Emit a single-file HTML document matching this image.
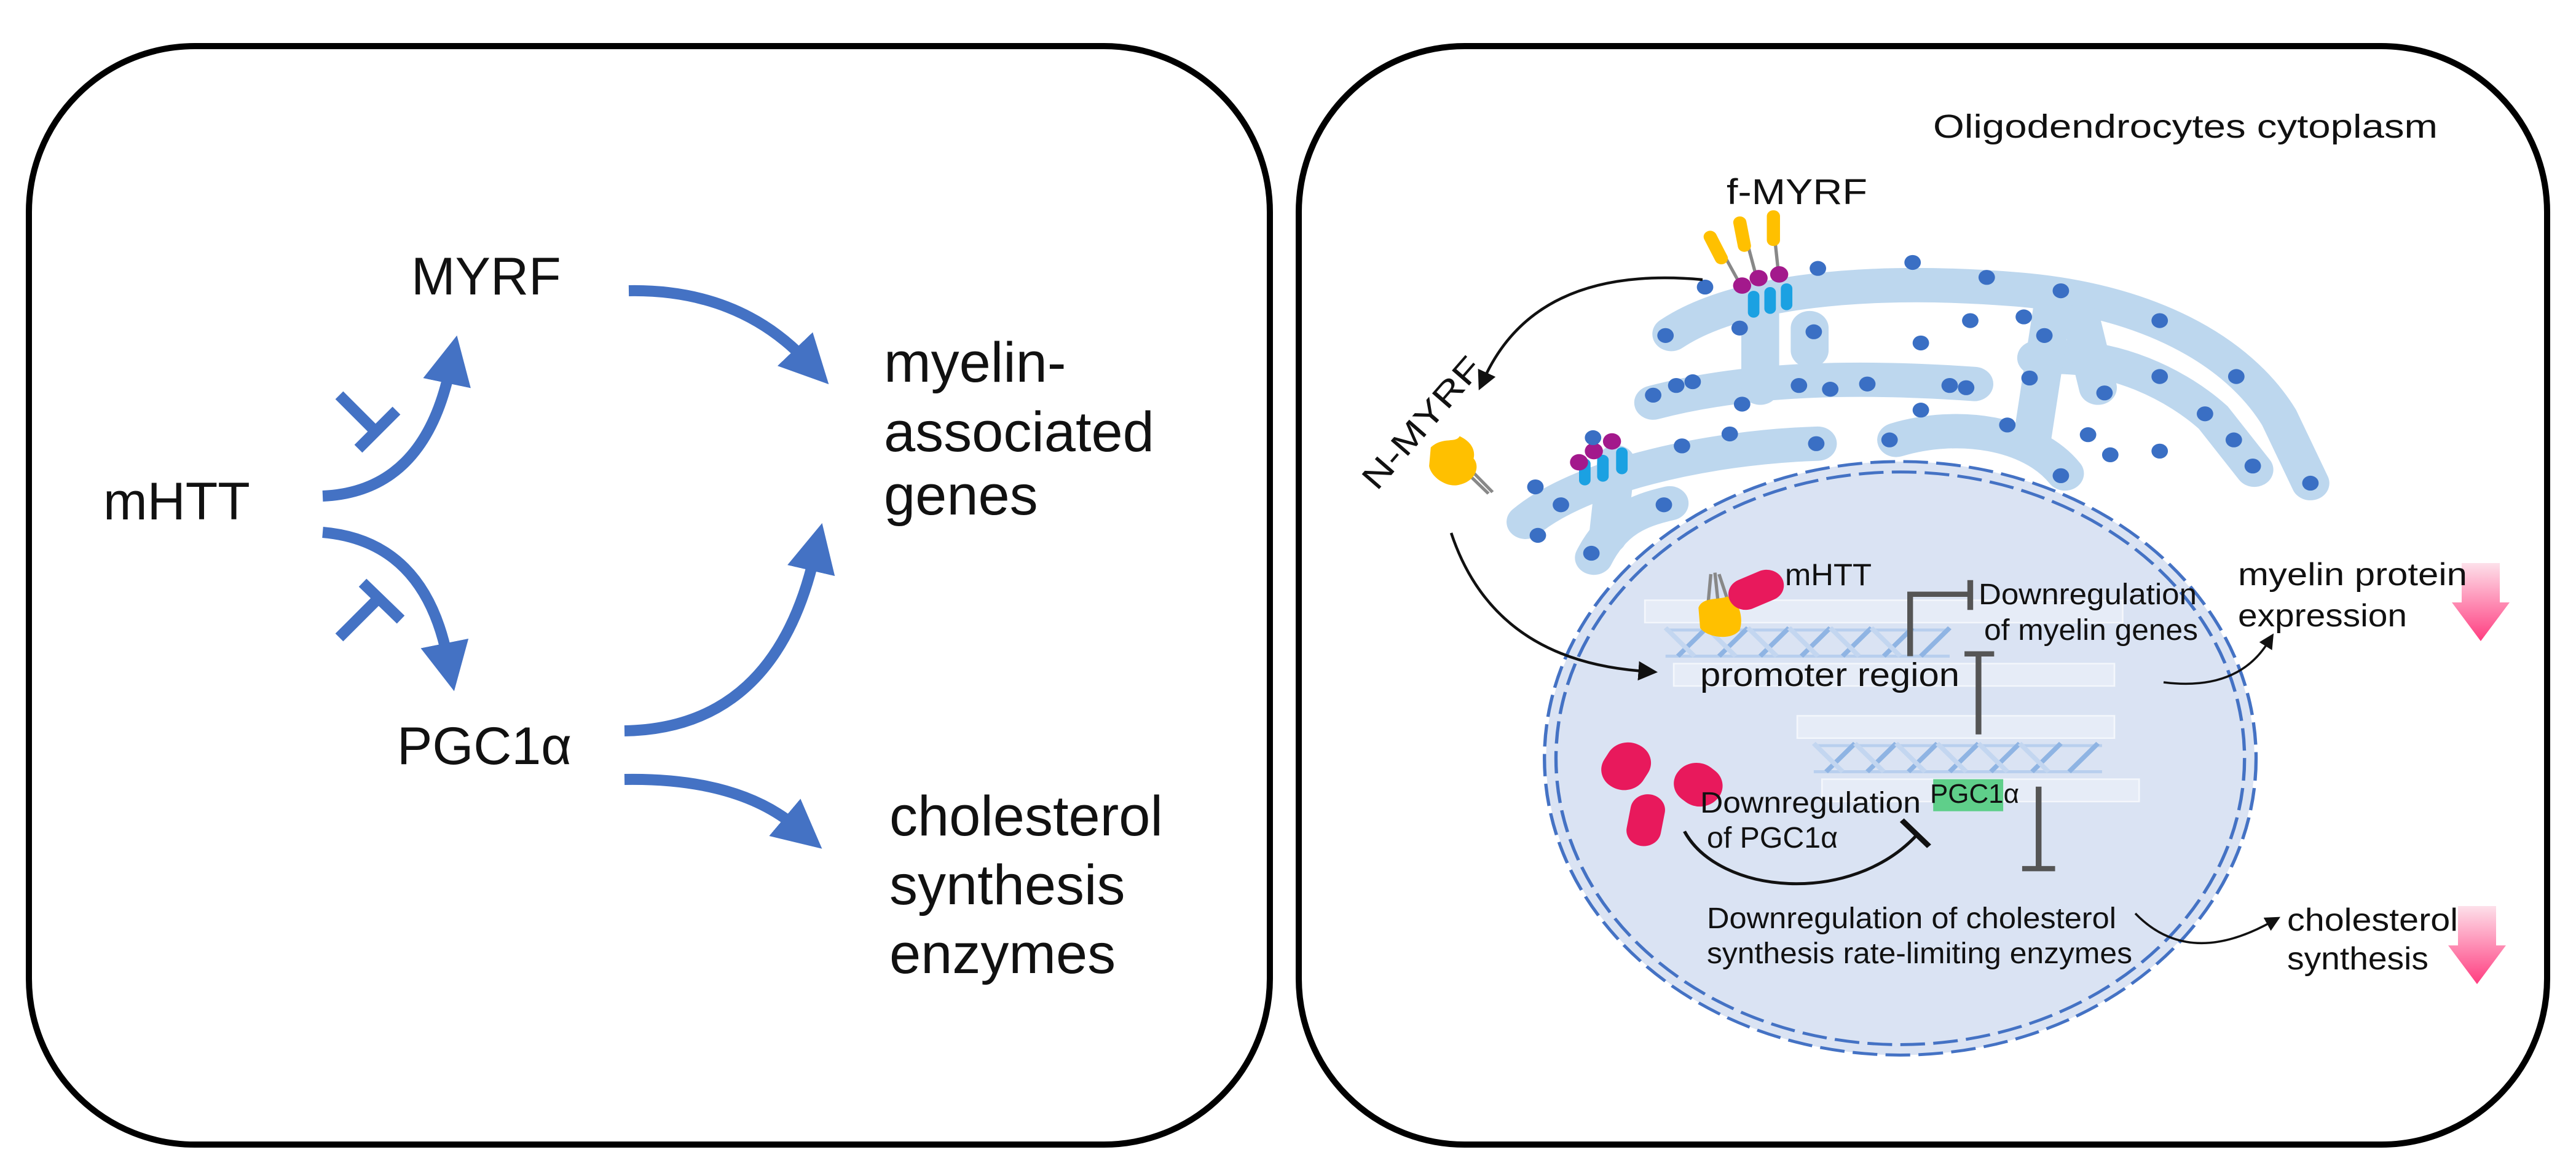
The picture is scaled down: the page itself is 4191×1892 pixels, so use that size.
<!DOCTYPE html>
<html><head><meta charset="utf-8"><style>
html,body{margin:0;padding:0;background:#fff}
svg{display:block}
text{font-family:"Liberation Sans",sans-serif;fill:#111}
</style></head><body>
<svg width="4191" height="1892" viewBox="0 0 4191 1892" xmlns="http://www.w3.org/2000/svg">
<defs>
<marker id="bh" viewBox="0 0 10 10" refX="3" refY="5" markerWidth="4.4" markerHeight="4.4" orient="auto"><path d="M0,0 L10,5 L0,10 z" fill="#4472C4"/></marker>
<marker id="kh" viewBox="0 0 10 10" refX="3" refY="5" markerWidth="7" markerHeight="7" orient="auto"><path d="M0,0 L10,5 L0,10 z" fill="#111"/></marker>
<linearGradient id="pk" x1="0" y1="0" x2="0" y2="1"><stop offset="0" stop-color="#fde0ea"/><stop offset="1" stop-color="#ff3d80"/></linearGradient>
</defs>

<!-- LEFT PANEL -->
<rect x="47" y="75" width="2019" height="1787" rx="270" ry="270" fill="#fff" stroke="#000" stroke-width="10"/>
<g fill="none" stroke="#4472C4" stroke-width="18">
<path d="M1023,473 Q1200,470 1310,585" marker-end="url(#bh)"/>
<path d="M525,807 Q690,800 732,600" marker-end="url(#bh)"/>
<path d="M525,866 Q690,880 728,1070" marker-end="url(#bh)"/>
<path d="M1016,1189 Q1260,1185 1325,905" marker-end="url(#bh)"/>
<path d="M1016,1268 Q1200,1265 1295,1345" marker-end="url(#bh)"/>
<path d="M552,643 L612,703"/><path d="M583,730 L645,668"/>
<path d="M552,1037 L614,975"/><path d="M590,948 L652,1008"/>
</g>
<text x="669" y="479" font-size="86">MYRF</text>
<text x="168" y="845" font-size="86">mHTT</text>
<text x="646" y="1243" font-size="86">PGC1α</text>
<text x="1438" y="621" font-size="92">myelin-</text>
<text x="1438" y="734" font-size="92">associated</text>
<text x="1438" y="837" font-size="92">genes</text>
<text x="1447" y="1359" font-size="92">cholesterol</text>
<text x="1447" y="1471" font-size="92">synthesis</text>
<text x="1447" y="1583" font-size="92">enzymes</text>

<!-- RIGHT PANEL -->
<rect x="2113" y="75" width="2031" height="1787" rx="270" ry="270" fill="#fff" stroke="#000" stroke-width="10"/>

<g transform="translate(2100,0) scale(1.34,1.213)">
<!-- ER -->
<g fill="none" stroke="#bdd7ee" stroke-width="46" stroke-linecap="round">
<path d="M462,448 C540,390 700,372 880,388 C1040,402 1150,470 1200,560 L1238,648"/>
<path d="M440,540 C560,505 700,505 830,515"/>
<path d="M905,480 C1000,470 1080,520 1120,560 L1170,630"/>
<path d="M285,700 C350,640 500,600 640,595"/>
<path d="M735,590 C810,565 900,580 940,635"/>
<path d="M368,748 C390,700 420,685 460,675"/>
<path d="M570,400 L570,520"/><path d="M925,410 L900,590"/><path d="M960,430 L980,520"/><path d="M395,620 L385,720"/><path d="M630,440 L630,470"/>
</g>
<g fill="#3a6fc4">
<circle cx="503" cy="385" r="10"/><circle cx="640" cy="360" r="10"/><circle cx="755" cy="352" r="10"/><circle cx="845" cy="372" r="10"/><circle cx="935" cy="390" r="10"/><circle cx="1055" cy="430" r="10"/><circle cx="455" cy="450" r="10"/><circle cx="545" cy="440" r="10"/><circle cx="635" cy="445" r="10"/><circle cx="765" cy="460" r="10"/><circle cx="825" cy="430" r="10"/><circle cx="890" cy="425" r="10"/><circle cx="915" cy="450" r="10"/><circle cx="440" cy="530" r="10"/><circle cx="468" cy="517" r="10"/><circle cx="488" cy="512" r="10"/><circle cx="548" cy="542" r="10"/><circle cx="617" cy="517" r="10"/><circle cx="655" cy="522" r="10"/><circle cx="700" cy="515" r="10"/><circle cx="800" cy="517" r="10"/><circle cx="820" cy="520" r="10"/><circle cx="897" cy="507" r="10"/><circle cx="988" cy="527" r="10"/><circle cx="1055" cy="505" r="10"/><circle cx="1148" cy="505" r="10"/><circle cx="765" cy="550" r="10"/><circle cx="870" cy="570" r="10"/><circle cx="968" cy="583" r="10"/><circle cx="1110" cy="555" r="10"/><circle cx="1145" cy="590" r="10"/><circle cx="1168" cy="625" r="10"/><circle cx="1238" cy="648" r="10"/><circle cx="995" cy="610" r="10"/><circle cx="1055" cy="605" r="10"/><circle cx="935" cy="638" r="10"/><circle cx="727" cy="590" r="10"/><circle cx="638" cy="595" r="10"/><circle cx="533" cy="582" r="10"/><circle cx="475" cy="598" r="10"/><circle cx="297" cy="653" r="10"/><circle cx="328" cy="677" r="10"/><circle cx="300" cy="718" r="10"/><circle cx="365" cy="742" r="10"/><circle cx="453" cy="677" r="10"/>
</g>
<!-- receptors -->
<g>
<path d="M515,320 L545,380 M548,300 L565,370 M585,292 L592,365" stroke="#888" stroke-width="4"/>
<rect x="508" y="308" width="16" height="48" rx="8" fill="#ffc000" transform="rotate(-25 516 332)"/>
<rect x="540" y="290" width="16" height="48" rx="8" fill="#ffc000" transform="rotate(-10 548 314)"/>
<rect x="578" y="282" width="16" height="48" rx="8" fill="#ffc000"/>
<rect x="555" y="390" width="14" height="36" rx="7" fill="#1ba1e2"/><rect x="575" y="385" width="14" height="36" rx="7" fill="#1ba1e2"/><rect x="595" y="380" width="14" height="36" rx="7" fill="#1ba1e2"/>
<circle cx="548" cy="383" r="11" fill="#a3198c"/><circle cx="568" cy="373" r="11" fill="#a3198c"/><circle cx="593" cy="368" r="11" fill="#a3198c"/>
<rect x="350" y="615" width="14" height="36" rx="7" fill="#1ba1e2"/><rect x="372" y="610" width="14" height="36" rx="7" fill="#1ba1e2"/><rect x="395" y="600" width="14" height="36" rx="7" fill="#1ba1e2"/>
<circle cx="350" cy="620" r="11" fill="#a3198c"/><circle cx="368" cy="605" r="11" fill="#a3198c"/><circle cx="390" cy="592" r="11" fill="#a3198c"/><circle cx="367" cy="587" r="10" fill="#3a6fc4"/>
<!-- N-MYRF protein -->
<path d="M205,615 L245,660 M210,630 L240,662" stroke="#888" stroke-width="4"/>
<path d="M170,600 C185,585 200,595 205,585 C215,590 225,600 222,615 C230,625 225,645 205,650 C190,655 170,640 168,625 Z" fill="#ffc000"/>
</g>
<!-- nucleus -->
<ellipse cx="740" cy="1017" rx="430" ry="398" fill="#dae3f3"/>
<ellipse cx="740" cy="1017" rx="432" ry="398" fill="none" stroke="#4472C4" stroke-width="4" stroke-dasharray="30 10"/>
<ellipse cx="740" cy="1017" rx="418" ry="384" fill="none" stroke="#4472C4" stroke-width="4" stroke-dasharray="30 10"/>
<!-- faint strips -->
<g fill="#e6ecf7" stroke="#f4f7fc" stroke-width="2">
<rect x="430" y="805" width="580" height="30"/><rect x="465" y="890" width="535" height="30"/><rect x="615" y="960" width="385" height="30"/><rect x="645" y="1045" width="385" height="30"/>
</g>
<!-- DNA -->
<g stroke="#8fb4e3" stroke-width="6" fill="none">
<path d="M455,845 L800,845 M455,880 L800,880" stroke="#b8cfee" stroke-width="4"/>
<path d="M470,880 L505,842 M520,880 L555,842 M570,880 L605,842 M620,880 L655,842 M670,880 L705,842 M720,880 L755,842 M765,880 L800,842"/>
<path d="M455,842 L490,880 M505,842 L540,880 M555,842 L590,880 M605,842 L640,880 M655,842 L690,880 M705,842 L740,880" stroke="#c3d6f0"/>
<path d="M635,1000 L985,1000 M635,1035 L985,1035" stroke="#b8cfee" stroke-width="4"/>
<path d="M650,1035 L685,997 M700,1035 L735,997 M750,1035 L785,997 M800,1035 L835,997 M850,1035 L885,997 M900,1035 L935,997 M945,1035 L980,997"/>
<path d="M635,997 L670,1035 M685,997 L720,1035 M735,997 L770,1035 M785,997 L820,1035 M835,997 L870,1035 M885,997 L920,1035" stroke="#c3d6f0"/>
</g>
<!-- mHTT bound protein -->
<path d="M510,770 L505,830 M515,768 L520,820 M520,770 L535,820" stroke="#888" stroke-width="4"/>
<path d="M495,815 C500,800 520,805 530,800 C545,805 550,830 545,845 C535,860 505,855 497,842 Z" fill="#ffc000"/>
<rect x="530" y="770" width="70" height="42" rx="21" fill="#e8195c" transform="rotate(-25 565 791)"/>
<!-- red ovals -->
<rect x="380" y="995" width="55" height="65" rx="27" fill="#e8195c" transform="rotate(30 407 1027)"/>
<rect x="465" y="1025" width="60" height="55" rx="27" fill="#e8195c" transform="rotate(40 495 1052)"/>
<rect x="410" y="1065" width="42" height="70" rx="21" fill="#e8195c" transform="rotate(10 431 1100)"/>
<!-- green PGC box -->
<rect x="780" y="1045" width="85" height="43" fill="#5fcf8a"/>
<!-- gray inhibition lines -->
<g stroke="#555" stroke-width="7" fill="none">
<path d="M752,880 L752,797 L825,797"/><path d="M825,778 L825,818"/>
<path d="M835,985 L835,877"/><path d="M818,877 L854,877"/>
<path d="M908,1055 L908,1165"/><path d="M888,1165 L928,1165"/>
</g>
<path d="M478,1115 C520,1200 680,1215 760,1120" stroke="#111" stroke-width="4" fill="none"/>
<path d="M742,1100 L775,1135" stroke="#111" stroke-width="7"/>
</g>

<!-- black curved arrows -->
<g fill="none" stroke="#111" stroke-width="4.5">
<path d="M2770,455 Q2500,430 2415,615" marker-end="url(#kh)"/>
<path d="M2361,867 Q2430,1075 2675,1092" marker-end="url(#kh)"/>
<path d="M3520,1110 Q3640,1125 3690,1045" stroke-width="3.5" marker-end="url(#kh)"/>
<path d="M3474,1486 Q3560,1575 3695,1500" stroke-width="3.5" marker-end="url(#kh)"/>
</g>
<!-- pink arrows -->
<path d="M4005,916 L4067,916 L4067,980 L4083,980 L4036,1043 L3989,980 L4005,980 Z" fill="url(#pk)"/>
<path d="M3999,1474 L4061,1474 L4061,1538 L4077,1538 L4030,1601 L3983,1538 L3999,1538 Z" fill="url(#pk)"/>

<!-- right texts -->
<text x="3145" y="224" font-size="54" textLength="821" lengthAdjust="spacingAndGlyphs">Oligodendrocytes cytoplasm</text>
<text x="2809" y="332" font-size="58" textLength="229" lengthAdjust="spacingAndGlyphs">f-MYRF</text>
<text x="0" y="0" font-size="54" textLength="265" lengthAdjust="spacingAndGlyphs" transform="translate(2240,800) rotate(-49)">N-MYRF</text>
<text x="2904" y="952" font-size="50" textLength="141" lengthAdjust="spacingAndGlyphs">mHTT</text>
<text x="3219" y="983" font-size="48" textLength="355" lengthAdjust="spacingAndGlyphs">Downregulation</text>
<text x="3228" y="1041" font-size="48" textLength="348" lengthAdjust="spacingAndGlyphs">of myelin genes</text>
<text x="2766" y="1116" font-size="54" textLength="422" lengthAdjust="spacingAndGlyphs">promoter region</text>
<text x="3641" y="952" font-size="52" textLength="373" lengthAdjust="spacingAndGlyphs">myelin protein</text>
<text x="3641" y="1019" font-size="52" textLength="275" lengthAdjust="spacingAndGlyphs">expression</text>
<text x="2766" y="1322" font-size="48" textLength="359" lengthAdjust="spacingAndGlyphs">Downregulation</text>
<text x="2777" y="1379" font-size="48" textLength="213" lengthAdjust="spacingAndGlyphs">of PGC1α</text>
<text x="3140" y="1306" font-size="44" fill="#333" textLength="145" lengthAdjust="spacingAndGlyphs">PGC1α</text>
<text x="2777" y="1510" font-size="48" textLength="666" lengthAdjust="spacingAndGlyphs">Downregulation of cholesterol</text>
<text x="2777" y="1567" font-size="48" textLength="692" lengthAdjust="spacingAndGlyphs">synthesis rate-limiting enzymes</text>
<text x="3721" y="1514" font-size="52" textLength="278" lengthAdjust="spacingAndGlyphs">cholesterol</text>
<text x="3721" y="1577" font-size="52" textLength="230" lengthAdjust="spacingAndGlyphs">synthesis</text>
</svg>
</body></html>
